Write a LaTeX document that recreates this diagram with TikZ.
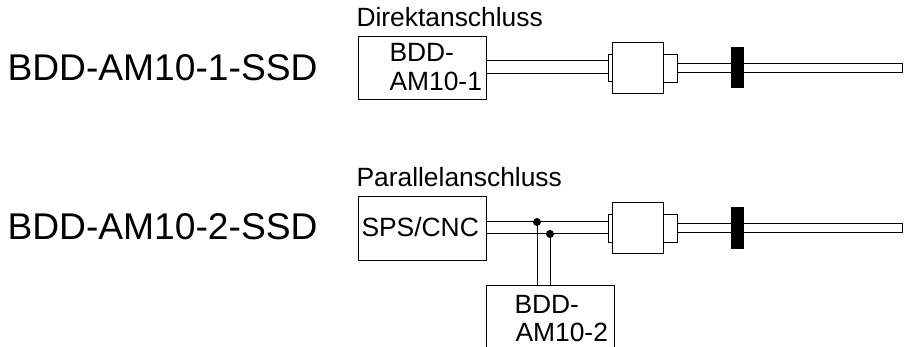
\documentclass[tikz,border=0pt]{standalone}
\usepackage{fontspec}
\setmainfont{Liberation Sans}
\tikzset{
  every picture/.style={x=1pt,y=-1pt,line width=1pt},
  part/.style={draw=black,fill=white,line width=1pt},
  wire/.style={draw=black,line width=1pt},
  bigt/.style={font=\fontsize{37.2}{37.2}\selectfont,anchor=base west,inner sep=0pt},
  smallt/.style={font=\fontsize{26.4}{26.4}\selectfont,anchor=base west,inner sep=0pt},
  boxn/.style={part,minimum width=128pt,minimum height=63pt,inner sep=0pt,anchor=north west},
  flangeL/.style={part,minimum width=5pt,minimum height=27pt,inner sep=0pt,anchor=north west},
  body/.style={part,minimum width=51pt,minimum height=51pt,inner sep=0pt,anchor=north west},
  flangeR/.style={part,minimum width=14pt,minimum height=28pt,inner sep=0pt,anchor=north west},
  cablen/.style={part,minimum width=225pt,minimum height=9pt,inner sep=0pt,anchor=north west},
  clampn/.style={draw=black,fill=black,minimum width=12pt,minimum height=40pt,inner sep=0pt,anchor=north west},
  dotn/.style={circle,fill=black,inner sep=0pt,minimum size=8pt}
}
\begin{document}
\begin{tikzpicture}
\useasboundingbox (0,0) rectangle (907,347);
\node[bigt] (t1) at (7,81) {BDD-AM10-1-SSD};
\node[bigt] (t2) at (7,240) {BDD-AM10-2-SSD};
\node[smallt] (h1) at (356,27) {Direktanschluss};
\node[smallt] (h2) at (356,187) {Parallelanschluss};
% top
\node[boxn] (a) at (358,36) {};
\node[smallt] (a1) at (389,62) {BDD-};
\node[smallt] (a2) at (389,91) {AM10-1};
\node[flangeL] (fl1) at (608,54) {};
\node[body] (b1) at (612,42) {};
\node[cablen] (c1) at (677,63) {};
\node[flangeR] (fr1) at (663,54) {};
\node[clampn] (k1) at (731,47) {};
\draw[wire] (a.east |- 0,61) -- (fl1.west |- 0,61);
\draw[wire] (a.east |- 0,74) -- (fl1.west |- 0,74);
% bottom
\node[boxn,minimum height=64pt] (s) at (358,196) {};
\node[smallt] (s1) at (361,237) {SPS/CNC};
\node[flangeL,minimum height=28pt] (fl2) at (608,214) {};
\node[body] (b2) at (612,202) {};
\node[cablen] (c2) at (677,223) {};
\node[flangeR] (fr2) at (663,214) {};
\node[clampn,minimum height=41pt] (k2) at (731,207) {};
\draw[wire] (s.east |- 0,222) -- (fl2.west |- 0,222);
\draw[wire] (s.east |- 0,234) -- (fl2.west |- 0,234);
\coordinate (bl) at (486,285);
\coordinate (br) at (614,285);
\draw[wire] (486,347) -- (bl) -- (br) -- (614,347);
\node[dotn] (d1) at (537,222) {};
\node[dotn] (d2) at (550,234) {};
\draw[wire] (d1.center) -- (d1.center |- bl);
\draw[wire] (d2.center) -- (d2.center |- bl);
\node[smallt] (e1) at (514,313) {BDD-};
\node[smallt] (e2) at (515,341) {AM10-2};
\end{tikzpicture}
\end{document}
